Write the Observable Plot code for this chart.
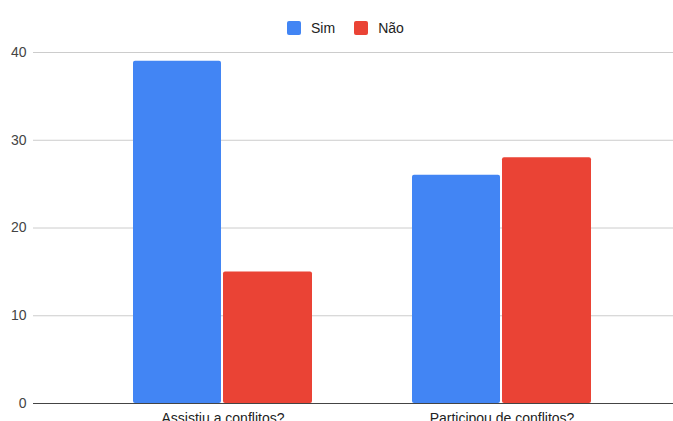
<!DOCTYPE html>
<html>
<head>
<meta charset="utf-8">
<script src="https://cdn.jsdelivr.net/npm/d3@7"></script>
<script src="https://cdn.jsdelivr.net/npm/@observablehq/plot@0.6"></script>
<style>
  html, body { margin: 0; padding: 0; background: #fff; overflow: hidden; width: 673px; height: 421px; }
  body { font-family: "Liberation Sans", Arial, sans-serif; }
  .legend { height: 40px; box-sizing: border-box; padding-left: 287px; padding-top: 16px; display: flex; align-items: center; font-size: 14px; color: #222; }
  .legend .item { display: flex; align-items: center; margin-right: 19px; height: 14px; }
  .legend .swatch { width: 14px; height: 14px; border-radius: 2px; margin-right: 10px; }
</style>
</head>
<body>
<div class="legend" id="legend"></div>
<div id="chart"></div>
<script>
// Survey answers per question
const questions = ["Assistiu a conflitos?", "Participou de conflitos?"];
const simValues = [39, 26];
const naoValues = [15, 28];
const seriesNames = ["Sim", "Não"];
const seriesColors = ["#4285F4", "#EA4335"];
const yTicks = [0, 10, 20, 30, 40];

const rows = questions.flatMap((q, i) => [
  {question: q, series: "Sim", value: simValues[i]},
  {question: q, series: "Não", value: naoValues[i]}
]);

// Legend
const legend = document.getElementById("legend");
seriesNames.forEach((name, i) => {
  const item = document.createElement("div");
  item.className = "item";
  const sw = document.createElement("span");
  sw.className = "swatch";
  sw.style.background = seriesColors[i];
  const label = document.createElement("span");
  label.textContent = name;
  item.append(sw, label);
  legend.append(item);
});

const chart = Plot.plot({
  width: 673,
  height: 400,
  marginLeft: 33,
  marginRight: 0,
  marginTop: 12,
  marginBottom: 37,
  style: {fontFamily: "'Liberation Sans', Arial, sans-serif", fontSize: "14px", background: "transparent"},
  x: {domain: questions, range: [82, 642], paddingInner: 0.357, paddingOuter: 0.1786, align: 0.5, label: null},
  y: {domain: [0, 40], label: null},
  color: {domain: seriesNames, range: seriesColors},
  marks: [
    Plot.ruleY(yTicks.filter(d => d > 0), {stroke: "#cccccc", strokeWidth: 1}),
    Plot.barY(rows.filter(d => d.series === "Sim"), {x: "question", y: "value", fill: "series", insetRight: 91, rx: 2}),
    Plot.barY(rows.filter(d => d.series === "Não"), {x: "question", y: "value", fill: "series", insetLeft: 90, rx: 2}),
    Plot.ruleY([0], {stroke: "#444444", strokeWidth: 1}),
    Plot.axisY({ticks: yTicks, tickSize: 0, tickPadding: 7, fill: "#444", fontSize: 14, label: null}),
    Plot.axisX({tickSize: 0, tickPadding: 10, fill: "#222", fontSize: 14, label: null})
  ]
});
document.getElementById("chart").append(chart);
</script>
</body>
</html>
